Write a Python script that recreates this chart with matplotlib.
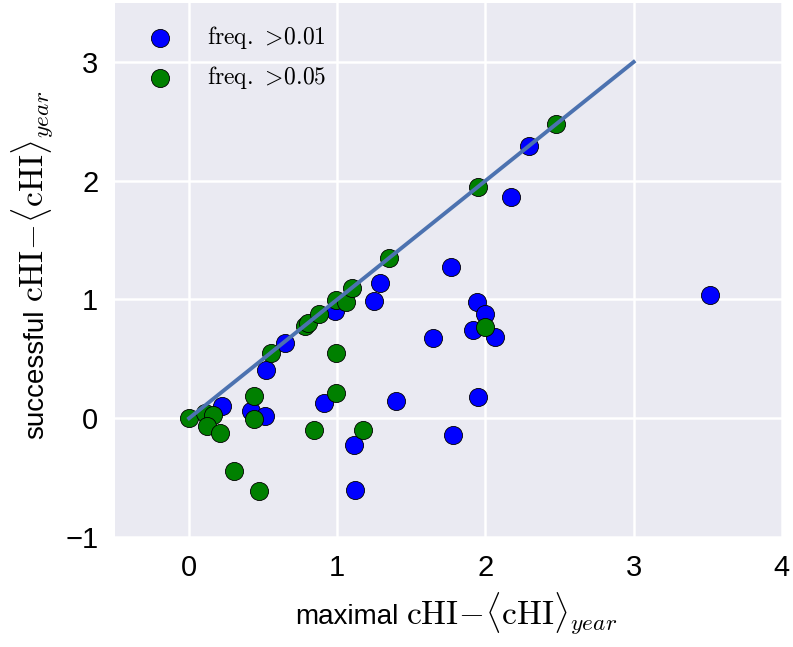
import matplotlib
matplotlib.use("Agg")
import matplotlib.pyplot as plt
import numpy as np

# data
blue_x = [0.225, 0.42, 0.51, 0.517, 0.647, 0.985, 1.247, 1.288, 1.647, 1.394, 0.91,
          1.115, 1.12, 1.77, 1.78, 2.293, 2.17, 1.94, 1.996, 1.913, 2.063, 1.951, 3.518]
blue_y = [0.10, 0.06, 0.017, 0.41, 0.634, 0.90, 0.99, 1.135, 0.677, 0.146, 0.13,
          -0.225, -0.60, 1.27, -0.137, 2.29, 1.86, 0.98, 0.88, 0.74, 0.68, 0.18, 1.034]

green_x = [0.0, 0.108, 0.16, 0.12, 0.21, 0.30, 0.47, 0.436, 0.44, 0.553, 0.78, 0.80,
           0.877, 0.99, 1.057, 1.097, 1.35, 0.99, 0.99, 0.84, 1.175, 1.951, 2.475, 1.996]
green_y = [0.0, 0.045, 0.03, -0.065, -0.12, -0.44, -0.61, 0.19, -0.01, 0.55, 0.775, 0.80,
           0.874, 0.995, 0.975, 1.095, 1.35, 0.55, 0.21, -0.095, -0.095, 1.95, 2.477, 0.77]

line_x = [0, 3]
line_y = [0, 3]

labels = [r'$\mathrm{freq.}\,{>}\!0.01$', r'$\mathrm{freq.}\,{>}\!0.05$']
x_ticks = [0, 1, 2, 3, 4]
y_ticks = [-1, 0, 1, 2, 3]
xlabel_word = 'maximal'
ylabel_word = 'successful'
label_math = r'$\mathrm{cHI}\!-\!\langle\mathrm{cHI}\rangle_{year}$'

plt.rcParams['mathtext.fontset'] = 'cm'
plt.rcParams['font.family'] = ['Liberation Sans', 'DejaVu Sans']

W, H = 793, 647
fig = plt.figure(figsize=(W / 100, H / 100), dpi=100)
ax = fig.add_axes([0.145, 0.170, 0.841, 0.826])
ax.set_facecolor('#EAEAF2')
for s in ax.spines.values():
    s.set_visible(False)
ax.grid(True, color='white', linewidth=1.8)
ax.set_axisbelow(True)

ax.scatter(blue_x, blue_y, s=170, c='#0000ff', edgecolors='k', linewidths=0.6,
           label=labels[0], zorder=3)
ax.scatter(green_x, green_y, s=170, c='#008000', edgecolors='k', linewidths=0.6,
           label=labels[1], zorder=3)
ax.plot(line_x, line_y, color='#4c72b0', lw=2.8, zorder=4)

ax.set_xlim(-0.5, 4)
ax.set_ylim(-1, 3.5)
ax.set_xticks(x_ticks)
ax.set_yticks(y_ticks)
ax.tick_params(axis='both', length=0, labelsize=21, pad=12)

ax.legend(loc='upper left', frameon=False, fontsize=17, scatterpoints=1,
          handletextpad=1.0, borderaxespad=0.5, labelspacing=0.55)

# axis labels: sans word + larger Computer Modern math part
word_fs, math_fs, gap = 20, 24, 8
tx1 = fig.text(0, 0, xlabel_word, fontsize=word_fs, ha='left', va='baseline')
tx2 = fig.text(0, 0, label_math, fontsize=math_fs, ha='left', va='baseline')
ty1 = fig.text(0, 0, ylabel_word, fontsize=word_fs, rotation=90,
               rotation_mode='anchor', ha='left', va='baseline')
ty2 = fig.text(0, 0, label_math, fontsize=math_fs, rotation=90,
               rotation_mode='anchor', ha='left', va='baseline')
fig.canvas.draw()
r = fig.canvas.get_renderer()
w1 = tx1.get_window_extent(r).width
w2 = tx2.get_window_extent(r).width
total = w1 + gap + w2
cx = 456.0
x0 = cx - total / 2
xbase = H - 624
tx1.set_position((x0 / W, xbase / H))
tx2.set_position(((x0 + w1 + gap) / W, xbase / H))

h1 = ty1.get_window_extent(r).height
h2 = ty2.get_window_extent(r).height
totaly = h1 + gap + h2
cy = H - 265.0
y0 = cy - totaly / 2
ybase = 43.0
ty1.set_position((ybase / W, y0 / H))
ty2.set_position((ybase / W, (y0 + h1 + gap) / H))

fig.savefig('out.png', dpi=100)
